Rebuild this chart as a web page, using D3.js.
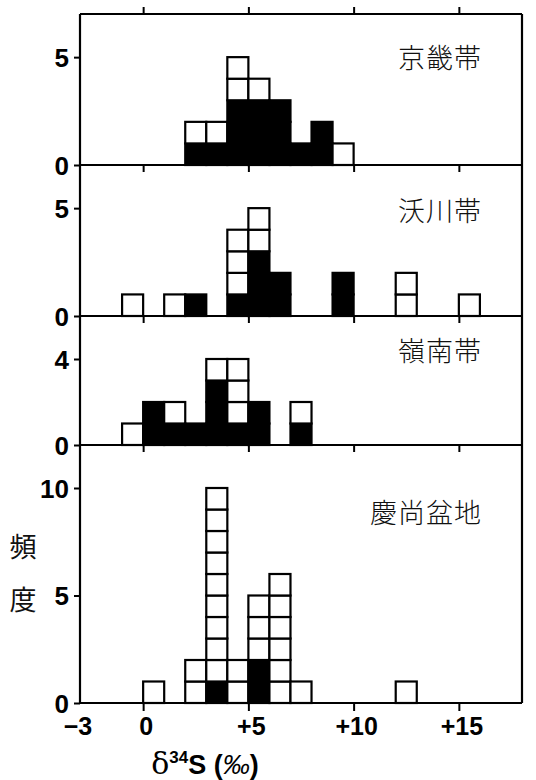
<!DOCTYPE html>
<html>
<head>
<meta charset="utf-8">
<script src="https://cdn.jsdelivr.net/npm/d3@7"></script>
<style>
  html, body { margin: 0; padding: 0; background: #fff; }
  svg { display: block; }
</style>
</head>
<body>
<svg id="chart" width="536" height="780"></svg>
<script>
// δ34S histograms (1‰ bins): total count per bin and how many of them are filled (black)
const panelNames = ["京畿帯", "沃川帯", "嶺南帯", "慶尚盆地"];

const binsKyonggi  = [2, 3, 4, 5, 6, 7, 8, 9];
const totalKyonggi = [2, 2, 5, 4, 3, 1, 2, 1];
const filledKyonggi= [1, 1, 3, 3, 3, 1, 2, 0];

const binsOkcheon  = [-1, 1, 2, 4, 5, 6, 9, 12, 15];
const totalOkcheon = [1, 1, 1, 4, 5, 2, 2, 2, 1];
const filledOkcheon= [0, 0, 1, 1, 3, 2, 2, 0, 0];

const binsYeongnam  = [-1, 0, 1, 2, 3, 4, 5, 7];
const totalYeongnam = [1, 2, 2, 1, 4, 4, 2, 2];
const filledYeongnam= [0, 2, 1, 1, 3, 1, 2, 1];

const binsGyeongsang  = [0, 2, 3, 4, 5, 6, 7, 12];
const totalGyeongsang = [1, 2, 10, 2, 5, 6, 1, 1];
const filledGyeongsang= [0, 0, 1, 0, 2, 0, 0, 0];

const yMaxes = [7, 7, 6, 12];
const yTicks = [[0, 5], [0, 5], [0, 4], [0, 5, 10]];
const xTickValues = [0, 5, 10, 15];
const xTickLabels = ["−3", "0", "+5", "+10", "+15"];
const xLabelValues = [-3, 0, 5, 10, 15];

const panelsData = [
  { bins: binsKyonggi, total: totalKyonggi, filled: filledKyonggi },
  { bins: binsOkcheon, total: totalOkcheon, filled: filledOkcheon },
  { bins: binsYeongnam, total: totalYeongnam, filled: filledYeongnam },
  { bins: binsGyeongsang, total: totalGyeongsang, filled: filledGyeongsang }
];

const svg = d3.select("#chart");
const left = 80, right = 522;
const panelTops = [14, 165, 316, 445];
const panelBottoms = [165, 316, 445, 703];

const x = d3.scaleLinear().domain([-3, 18]).range([left, right]);

const tickFont = "'Liberation Sans', Arial, sans-serif";
const cjkFont = "'Noto Sans CJK JP', 'Noto Sans CJK SC', sans-serif";

panelsData.forEach((pd, i) => {
  const y = d3.scaleLinear().domain([0, yMaxes[i]]).range([panelBottoms[i], panelTops[i]]);
  const g = svg.append("g");

  // unit boxes: one square per sample, filled ones at the bottom
  const cells = [];
  pd.bins.forEach((b, j) => {
    for (let k = 0; k < pd.total[j]; k++) {
      cells.push({ bin: b, level: k, filled: k < pd.filled[j] });
    }
  });
  g.selectAll("rect.cell").data(cells).join("rect")
    .attr("class", "cell")
    .attr("x", d => x(d.bin))
    .attr("y", d => y(d.level + 1))
    .attr("width", d => x(d.bin + 1) - x(d.bin))
    .attr("height", d => y(d.level) - y(d.level + 1))
    .attr("fill", d => d.filled ? "#000" : "#fff")
    .attr("stroke", "#000")
    .attr("stroke-width", 2.2);

  // y axis ticks and labels
  const yAxis = d3.axisLeft(y).tickValues(yTicks[i]).tickSize(6).tickPadding(5)
    .tickFormat(d3.format("d"));
  const ya = g.append("g").attr("transform", `translate(${left},0)`).call(yAxis);
  ya.select(".domain").remove();
  ya.selectAll("line").attr("stroke", "#000").attr("stroke-width", 2);
  ya.selectAll("text")
    .attr("font-family", tickFont).attr("font-weight", "bold")
    .attr("font-size", 26).attr("fill", "#000").attr("dy", "0.36em");

  // panel name
  g.append("text")
    .attr("x", 482).attr("y", [58, 211, 351, 513][i])
    .attr("dy", "0.36em")
    .attr("text-anchor", "end")
    .attr("font-family", cjkFont)
    .attr("font-weight", 300)
    .attr("font-size", 27)
    .attr("letter-spacing", 1)
    .attr("fill", "#111")
    .text(panelNames[i]);
});

// x ticks on every panel boundary
const tickLen = 7;
// top frame: ticks point upward
svg.append("g").attr("transform", `translate(0,${panelTops[0]})`)
  .call(d3.axisTop(x).tickValues(xTickValues).tickSize(tickLen).tickFormat(""))
  .call(a => { a.select(".domain").remove(); a.selectAll("line").attr("stroke", "#000").attr("stroke-width", 2); });
// panel baselines: ticks point downward
panelBottoms.forEach((yb, i) => {
  svg.append("g").attr("transform", `translate(0,${yb})`)
    .call(d3.axisBottom(x).tickValues(xTickValues).tickSize(i === 3 ? 8 : tickLen).tickFormat(""))
    .call(a => { a.select(".domain").remove(); a.selectAll("line").attr("stroke", "#000").attr("stroke-width", 2); });
  svg.append("line")
    .attr("x1", left).attr("x2", right).attr("y1", yb).attr("y2", yb)
    .attr("stroke", "#000").attr("stroke-width", 2.2);
});

// frame: top, left, right
svg.append("line").attr("x1", left).attr("x2", right).attr("y1", panelTops[0]).attr("y2", panelTops[0])
  .attr("stroke", "#000").attr("stroke-width", 2.2);
svg.append("line").attr("x1", left).attr("x2", left).attr("y1", panelTops[0]).attr("y2", panelBottoms[3])
  .attr("stroke", "#000").attr("stroke-width", 2.2);
svg.append("line").attr("x1", right).attr("x2", right).attr("y1", panelTops[0]).attr("y2", panelBottoms[3])
  .attr("stroke", "#000").attr("stroke-width", 2.2);

// x tick labels under the bottom panel
svg.append("g").selectAll("text").data(xLabelValues).join("text")
  .attr("x", (d, i) => x(d) + (i === 0 ? -2 : 3))
  .attr("y", 735)
  .attr("text-anchor", "middle")
  .attr("font-family", tickFont).attr("font-weight", "bold").attr("font-size", 25)
  .attr("fill", "#000")
  .text((d, i) => xTickLabels[i]);

// x axis title
const title = svg.append("text")
  .attr("x", 205).attr("y", 774)
  .attr("text-anchor", "middle")
  .attr("font-family", tickFont).attr("font-weight", "bold").attr("font-size", 27)
  .attr("fill", "#000");
title.append("tspan").attr("font-family", "'DejaVu Serif', serif").attr("font-weight", "normal").attr("font-size", 30).text("δ");
title.append("tspan").attr("font-size", 17).attr("dy", -11).text("34");
title.append("tspan").attr("dy", 11).text("S (");
title.append("tspan").attr("font-style", "italic").attr("font-weight", "normal").text("‰");
title.append("tspan").text(")");

// y axis title, one character per line
svg.append("g").selectAll("text").data(["頻", "度"]).join("text")
  .attr("x", 23).attr("y", (d, i) => [547, 600][i])
  .attr("dy", "0.36em")
  .attr("text-anchor", "middle")
  .attr("font-family", cjkFont).attr("font-weight", 400).attr("font-size", 27)
  .attr("fill", "#111")
  .text(d => d);
</script>
</body>
</html>
